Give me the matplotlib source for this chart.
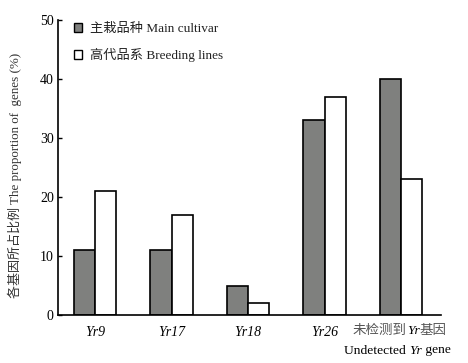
import matplotlib
matplotlib.use("Agg")
import matplotlib.pyplot as plt
import numpy as np
from matplotlib.patches import Patch

plt.rcParams['font.family'] = ['Liberation Serif', 'Noto Sans CJK SC']

categories = ["Yr9", "Yr17", "Yr18", "Yr26", "Undetected"]
main_cultivar = [11, 11, 5, 33, 40]
breeding_lines = [21, 17, 2, 37, 23]
yticks = [0, 10, 20, 30, 40, 50]
legend_labels = ["主栽品种 Main cultivar", "高代品系 Breeding lines"]

fig = plt.figure(figsize=(4.68, 3.63), dpi=100)
ax = fig.add_axes([58/468, 1-315/363, (441-58)/468, (315-20)/363])

x = np.arange(len(categories))
w = 0.28
gray = '#7f807e'
ax.bar(x - w/2, main_cultivar, w, color=gray, edgecolor='black', linewidth=1.2)
ax.bar(x + w/2, breeding_lines, w, color='white', edgecolor='black', linewidth=1.2)

ax.set_xlim(-0.484, -0.484 + 383/76.5)
ax.set_ylim(0, 50)
ax.set_yticks(yticks)
ax.tick_params(axis='y', direction='in', length=3, width=1, labelsize=10, pad=3)
ax.tick_params(axis='x', length=0, pad=8)
ax.set_xticks(x[:4])
ax.set_xticklabels(categories[:4], fontstyle='italic', fontsize=10)
for s in ['top', 'right']:
    ax.spines[s].set_visible(False)
for s in ['left', 'bottom']:
    ax.spines[s].set_linewidth(1.2)

# last category label, composed
def chain(pieces, x0, y0, color_cjk='#555555'):
    def col(s):
        return color_cjk if any(ord(c) > 0x2E80 for c in s) else 'black'
    t = ax.text(x0, y0, pieces[0][0], fontstyle=pieces[0][1], fontsize=9.7,
                color=col(pieces[0][0]),
                transform=ax.get_xaxis_transform(), ha='left', va='top')
    for txt, st in pieces[1:]:
        t = ax.annotate(txt, xy=(1, 0), xycoords=t, ha='left', va='bottom',
                        fontstyle=st, fontsize=9.7, color=col(txt))
    return t

chain([("未检测到", 'normal'), ("Yr", 'italic'), ("基因", 'normal')], 3.37, -0.035)
chain([("Undetected ", 'normal'), ("Yr", 'italic'), (" gene", 'normal')], 3.26, -0.10)

ax.set_ylabel("各基因所占比例 The proportion of  genes (%)", fontsize=9.4, color='#333333')
ax.yaxis.set_label_coords(-0.095, 0.475)

handles = [Patch(facecolor=gray, edgecolor='black', linewidth=1.0),
           Patch(facecolor='white', edgecolor='black', linewidth=1.0)]
leg = ax.legend(handles, legend_labels, loc='upper left', bbox_to_anchor=(0.01, 1.03),
                frameon=False, fontsize=9.5, handlelength=0.65, handleheight=0.65,
                handletextpad=0.6, labelspacing=1.0)
for t in leg.get_texts():
    t.set_color('#222222')

fig.savefig("out.png", dpi=100)
